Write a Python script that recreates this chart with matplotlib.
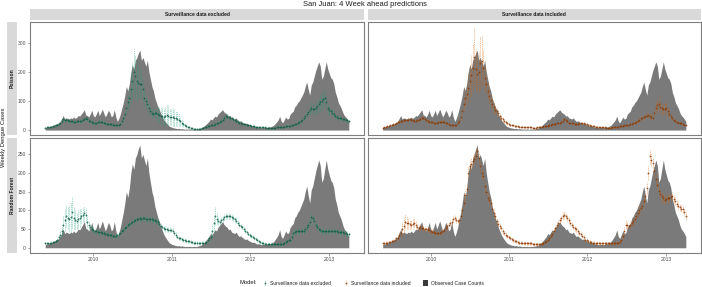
import numpy as np
import pandas as pd
import matplotlib
matplotlib.use('Agg')
import matplotlib.pyplot as plt
import matplotlib.dates as mdates
from matplotlib.patches import Rectangle, Patch

plt.rcParams['font.family'] = ['Liberation Sans', 'DejaVu Sans']

# weekly dates of the test period
weeks = pd.date_range('2009-05-21', periods=203, freq='7D')

# observed weekly dengue cases
observed = [8, 10, 11, 12, 14, 15, 18, 20, 22, 25,
            30, 40, 50, 38, 42, 40, 38, 42, 40, 45,
            40, 44, 50, 48, 55, 62, 70, 52, 50, 45,
            55, 68, 50, 45, 55, 68, 50, 60, 72, 58,
            45, 55, 68, 60, 45, 50, 70, 45, 30, 40,
            55, 75, 95, 120, 150, 135, 160, 200, 225, 210,
            240, 250, 265, 275, 240, 250, 235, 220, 240, 200,
            175, 150, 135, 110, 95, 80, 70, 55, 45, 35,
            28, 22, 16, 12, 10, 8, 7, 6, 5, 6,
            4, 5, 4, 3, 4, 3, 4, 3, 3, 4,
            3, 4, 5, 6, 8, 12, 15, 20, 25, 30,
            38, 35, 42, 48, 45, 55, 60, 65, 70, 62,
            58, 55, 48, 50, 42, 40, 38, 42, 35, 30,
            32, 28, 25, 22, 24, 20, 18, 16, 14, 15,
            12, 10, 11, 9, 8, 10, 9, 8, 10, 12,
            10, 14, 16, 22, 28, 35, 48, 30, 25, 35,
            45, 38, 40, 55, 60, 65, 80, 85, 95, 100,
            110, 120, 130, 150, 165, 140, 120, 155, 165, 185,
            205, 220, 235, 220, 175, 185, 210, 235, 210, 195,
            180, 175, 160, 130, 115, 95, 85, 75, 60, 50,
            45, 38, 30]

# Poisson, surveillance data excluded
pois_excl = [8, 9, 10, 11, 12, 13, 14, 16, 18, 22,
             25, 30, 37, 35, 33, 33, 32, 30, 30, 29,
             29, 30, 30, 31, 30, 33, 38, 42, 38, 32,
             30, 28, 26, 25, 25, 27, 28, 29, 28, 26,
             24, 22, 20, 20, 20, 19, 19, 18, 18, 17,
             22, 32, 42, 55, 77, 95, 111, 140, 169, 200,
             185, 170, 163, 160, 157, 140, 111, 100, 88, 75,
             65, 60, 54, 60, 58, 55, 52, 50, 48, 46,
             48, 52, 50, 46, 44, 45, 42, 40, 38, 34,
             30, 26, 22, 18, 14, 11, 9, 7, 6, 5,
             5, 5, 5, 5, 6, 7, 9, 11, 13, 15,
             16, 18, 19, 20, 23, 26, 29, 31, 36, 42,
             48, 46, 44, 42, 42, 38, 34, 31, 28, 26,
             24, 22, 21, 20, 18, 17, 16, 15, 14, 13,
             12, 11, 10, 10, 9, 9, 9, 8, 8, 8,
             8, 8, 8, 8, 9, 9, 10, 10, 11, 12,
             13, 14, 14, 15, 16, 18, 20, 22, 24, 27,
             31, 36, 42, 48, 54, 62, 70, 77, 74, 71,
             75, 82, 88, 95, 100, 106, 110, 95, 77, 70,
             65, 60, 55, 48, 45, 43, 42, 40, 38, 37,
             35, 33, 31]
pois_excl_err = [2, 2, 2, 2, 2, 3, 3, 3, 3, 4,
                 4, 5, 6, 6, 5, 5, 5, 5, 5, 5,
                 5, 5, 5, 5, 5, 5, 6, 7, 6, 5,
                 5, 5, 4, 4, 4, 4, 5, 5, 5, 4,
                 4, 4, 4, 4, 4, 4, 4, 3, 3, 3,
                 4, 6, 8, 12, 18, 25, 35, 50, 65, 80,
                 75, 70, 60, 50, 45, 40, 30, 25, 20, 18,
                 15, 15, 15, 20, 22, 25, 28, 30, 32, 30,
                 32, 35, 35, 30, 28, 30, 28, 26, 24, 20,
                 16, 12, 10, 8, 6, 4, 3, 3, 2, 2,
                 2, 2, 2, 2, 2, 2, 2, 3, 3, 3,
                 3, 4, 4, 4, 4, 5, 5, 6, 6, 7,
                 8, 8, 7, 7, 7, 6, 6, 5, 5, 5,
                 4, 4, 4, 4, 3, 3, 3, 3, 3, 3,
                 2, 2, 2, 2, 2, 2, 2, 2, 2, 2,
                 2, 2, 2, 2, 2, 2, 2, 2, 2, 3,
                 3, 3, 3, 3, 3, 4, 4, 4, 5, 5,
                 6, 7, 8, 10, 12, 14, 16, 18, 18, 18,
                 20, 22, 25, 28, 30, 30, 28, 25, 20, 15,
                 14, 12, 10, 9, 8, 8, 7, 7, 6, 6,
                 6, 5, 5]

# Poisson, surveillance data included
pois_incl = [8, 10, 12, 13, 15, 17, 19, 20, 22, 24,
             27, 29, 31, 32, 33, 34, 35, 36, 37, 36,
             34, 32, 31, 33, 36, 39, 42, 42, 38, 33,
             30, 29, 28, 27, 26, 25, 26, 27, 28, 29,
             29, 27, 25, 23, 20, 19, 18, 17, 17, 17,
             24, 31, 45, 66, 90, 110, 123, 145, 169, 190,
             215, 250, 210, 192, 200, 230, 238, 215, 180, 157,
             135, 117, 102, 88, 78, 70, 66, 58, 48, 42,
             37, 32, 27, 24, 20, 18, 17, 16, 15, 14,
             13, 12, 12, 11, 11, 10, 10, 9, 9, 9,
             8, 8, 8, 9, 10, 11, 12, 13, 14, 14,
             15, 16, 18, 20, 21, 22, 23, 24, 25, 28,
             32, 37, 34, 30, 25, 24, 23, 23, 22, 22,
             22, 23, 24, 25, 24, 22, 20, 17, 16, 15,
             14, 13, 12, 11, 10, 10, 9, 9, 9, 8,
             8, 8, 8, 9, 9, 10, 11, 12, 13, 14,
             15, 16, 17, 18, 19, 20, 22, 24, 26, 29,
             32, 36, 40, 42, 45, 48, 50, 52, 50, 46,
             42, 60, 77, 85, 91, 80, 75, 71, 74, 77,
             65, 54, 48, 42, 36, 32, 28, 25, 24, 23,
             22, 19, 17]
pois_incl_err = [2, 2, 2, 2, 2, 3, 3, 3, 3, 3,
                 4, 4, 4, 4, 4, 4, 4, 4, 4, 4,
                 4, 4, 4, 4, 4, 5, 5, 5, 5, 4,
                 4, 4, 4, 4, 4, 3, 3, 4, 4, 4,
                 4, 4, 3, 3, 3, 3, 3, 3, 3, 3,
                 4, 6, 10, 15, 22, 30, 40, 50, 60, 70,
                 80, 100, 70, 60, 70, 90, 85, 60, 45, 35,
                 30, 25, 22, 20, 18, 16, 14, 12, 10, 9,
                 8, 7, 6, 5, 4, 4, 3, 3, 3, 3,
                 2, 2, 2, 2, 2, 2, 2, 2, 2, 2,
                 2, 2, 2, 2, 2, 2, 2, 2, 2, 2,
                 2, 3, 3, 3, 3, 3, 3, 3, 3, 4,
                 5, 6, 5, 4, 4, 4, 3, 3, 3, 3,
                 3, 3, 4, 4, 4, 3, 3, 3, 3, 2,
                 2, 2, 2, 2, 2, 2, 2, 2, 2, 2,
                 2, 2, 2, 2, 2, 2, 2, 2, 2, 2,
                 2, 2, 3, 3, 3, 3, 3, 3, 4, 4,
                 4, 5, 5, 6, 6, 7, 8, 8, 8, 8,
                 8, 12, 18, 22, 25, 20, 18, 18, 20, 22,
                 16, 12, 10, 8, 6, 5, 4, 4, 3, 3,
                 3, 3, 3]

# Random Forest, surveillance data excluded
rf_excl = [12, 12, 13, 13, 14, 15, 16, 18, 22, 28,
           35, 45, 62, 75, 85, 80, 78, 82, 95, 80,
           75, 72, 78, 80, 85, 88, 92, 88, 70, 60,
           55, 50, 48, 45, 44, 43, 42, 41, 40, 40,
           38, 36, 35, 34, 33, 32, 32, 31, 33, 36,
           40, 45, 47, 52, 56, 60, 63, 65, 68, 72,
           74, 76, 78, 80, 78, 79, 80, 78, 76, 77,
           78, 76, 75, 73, 72, 68, 63, 58, 55, 52,
           50, 49, 48, 48, 47, 46, 40, 35, 30, 27,
           25, 23, 21, 20, 19, 18, 17, 16, 15, 14,
           13, 13, 12, 12, 13, 13, 14, 16, 20, 25,
           30, 45, 65, 85, 78, 72, 70, 74, 78, 82,
           85, 86, 85, 84, 82, 80, 76, 72, 67, 62,
           58, 55, 50, 46, 42, 38, 35, 32, 30, 27,
           24, 20, 17, 15, 13, 12, 11, 10, 10, 9,
           9, 9, 9, 9, 9, 9, 9, 10, 11, 13,
           15, 18, 20, 22, 30, 40, 43, 44, 45, 45,
           44, 45, 46, 50, 56, 62, 70, 82, 80, 72,
           62, 55, 50, 48, 46, 46, 45, 45, 44, 44,
           44, 45, 45, 44, 44, 43, 42, 42, 41, 40,
           39, 38, 36]
rf_excl_err = [3, 3, 3, 3, 3, 3, 3, 4, 5, 6,
               10, 15, 25, 30, 30, 30, 35, 40, 42, 30,
               25, 22, 25, 25, 20, 18, 20, 18, 15, 10,
               8, 8, 7, 7, 6, 6, 6, 6, 6, 6,
               6, 6, 6, 6, 6, 6, 6, 6, 6, 6,
               6, 6, 7, 7, 7, 7, 8, 8, 8, 8,
               8, 8, 8, 8, 8, 8, 8, 8, 8, 8,
               8, 8, 8, 8, 8, 8, 8, 7, 7, 7,
               7, 7, 7, 7, 6, 6, 6, 6, 5, 5,
               5, 5, 5, 4, 4, 4, 4, 4, 4, 4,
               4, 4, 4, 4, 4, 4, 4, 5, 6, 8,
               12, 18, 22, 25, 15, 10, 8, 8, 8, 8,
               8, 8, 8, 8, 8, 8, 7, 7, 7, 7,
               6, 6, 6, 6, 6, 5, 5, 5, 5, 5,
               4, 4, 4, 4, 4, 4, 4, 4, 4, 4,
               4, 4, 4, 4, 4, 4, 4, 4, 4, 4,
               4, 4, 5, 6, 7, 8, 8, 8, 8, 8,
               8, 8, 8, 8, 9, 10, 10, 10, 10, 10,
               8, 8, 8, 8, 8, 8, 8, 8, 8, 8,
               7, 7, 7, 7, 7, 7, 7, 7, 7, 7,
               7, 7, 7]

# Random Forest, surveillance data included
rf_incl = [13, 13, 14, 14, 15, 15, 17, 19, 22, 25,
           27, 33, 40, 50, 58, 70, 67, 65, 63, 62,
           64, 67, 62, 56, 54, 55, 54, 53, 51, 49,
           49, 47, 45, 43, 41, 40, 40, 40, 40, 41,
           44, 48, 54, 58, 62, 67, 70, 76, 80, 75,
           71, 74, 85, 100, 120, 140, 156, 200, 219, 225,
           232, 238, 245, 259, 240, 219, 200, 192, 165, 150,
           134, 128, 120, 105, 94, 84, 71, 64, 58, 52,
           45, 40, 35, 31, 28, 25, 23, 21, 19, 17,
           15, 14, 13, 13, 12, 12, 12, 12, 12, 12,
           9, 9, 9, 9, 9, 10, 11, 12, 15, 18,
           22, 26, 31, 38, 46, 54, 60, 67, 73, 80,
           85, 89, 85, 80, 74, 67, 62, 56, 52, 49,
           44, 40, 36, 32, 28, 22, 20, 18, 16, 15,
           14, 13, 12, 12, 12, 12, 12, 12, 12, 12,
           12, 12, 12, 12, 12, 12, 13, 14, 16, 22,
           31, 45, 62, 60, 58, 62, 66, 71, 78, 86,
           94, 100, 106, 112, 125, 138, 160, 200, 245, 236,
           228, 205, 183, 168, 152, 145, 138, 132, 129, 130,
           132, 134, 136, 138, 130, 125, 118, 112, 108, 105,
           103, 95, 85]
rf_incl_err = [3, 3, 3, 3, 3, 3, 3, 4, 4, 5,
               6, 8, 12, 18, 22, 20, 18, 15, 12, 12,
               12, 12, 10, 8, 8, 8, 8, 8, 8, 7,
               7, 7, 7, 7, 6, 6, 6, 6, 6, 6,
               6, 6, 7, 7, 7, 8, 8, 8, 8, 8,
               8, 8, 9, 10, 12, 14, 15, 15, 15, 15,
               15, 15, 15, 15, 15, 15, 15, 14, 14, 13,
               12, 12, 11, 10, 10, 9, 9, 8, 8, 7,
               7, 6, 6, 6, 5, 5, 5, 5, 4, 4,
               4, 4, 4, 4, 4, 4, 4, 4, 4, 4,
               4, 4, 4, 4, 4, 4, 4, 4, 4, 5,
               5, 6, 6, 7, 7, 8, 8, 8, 9, 9,
               10, 10, 9, 9, 8, 8, 7, 7, 7, 6,
               6, 6, 5, 5, 5, 5, 4, 4, 4, 4,
               4, 4, 4, 4, 4, 4, 4, 4, 4, 4,
               4, 4, 4, 4, 4, 4, 4, 4, 4, 6,
               8, 10, 12, 10, 9, 9, 9, 9, 10, 10,
               10, 11, 11, 12, 13, 14, 16, 18, 20, 18,
               16, 15, 14, 13, 12, 12, 12, 11, 11, 11,
               11, 11, 11, 11, 10, 10, 10, 10, 10, 10,
               10, 10, 10]

models = ['Poisson', 'Random Forest']
settings = ['Surveillance data excluded', 'Surveillance data included']

excl_col, incl_col = '#1b9e77', '#d95f02'
excl_dark, incl_dark = '#0e5f47', '#8a3a05'

W, H = 702, 287
fig = plt.figure(figsize=(W / 100, H / 100), dpi=100)


def box(x0, y0, x1, y1):
    # pixel box (from top-left) -> figure rect
    return [x0 / W, 1 - y1 / H, (x1 - x0) / W, (y1 - y0) / H]


cols = [(30, 364), (367.5, 701)]
rows = [(22, 135), (138.3, 253)]
ylims = [(-17, 372), (-14, 293)]
yticks = [[0, 100, 200, 300], [0, 50, 100, 150, 200, 250]]
panels = [[(pois_excl, pois_excl_err, excl_col, excl_dark),
           (pois_incl, pois_incl_err, incl_col, incl_dark)],
          [(rf_excl, rf_excl_err, excl_col, excl_dark),
           (rf_incl, rf_incl_err, incl_col, incl_dark)]]

pad = (weeks[-1] - weeks[0]) * 0.05
strip_col = '#d9d9d9'
tick_col = '#4d4d4d'
fs = 3.6
handles = {}

for r in range(2):
    for c in range(2):
        ax = fig.add_axes(box(cols[c][0], rows[r][0], cols[c][1], rows[r][1]))
        ax.fill_between(weeks, observed, 0, color='#7a7a7a', lw=0)
        mean, err, col, dark = panels[r][c]
        eb = ax.errorbar(weeks, mean, yerr=err, fmt='o', ms=1.3, mew=0,
                         color=dark, ecolor=col, elinewidth=0.4,
                         capsize=0.7, capthick=0.4, alpha=0.85)
        eb[2][0].set_linestyle((0, (2.0, 1.4)))
        eb[2][0].set_alpha(0.7)
        handles[c] = eb
        ax.set_xlim(weeks[0] - pad, weeks[-1] + pad)
        ax.set_ylim(*ylims[r])
        ax.set_yticks(yticks[r])
        ax.xaxis.set_major_locator(mdates.YearLocator())
        ax.xaxis.set_major_formatter(mdates.DateFormatter('%Y'))
        for s in ax.spines.values():
            s.set_color('#7f7f7f')
            s.set_linewidth(0.8)
        ax.tick_params(length=1.8, width=0.5, color='#7f7f7f',
                       labelsize=fs, labelcolor=tick_col, pad=1)
        if c == 1:
            ax.tick_params(axis='y', labelleft=False, length=0)
        if r == 0:
            ax.tick_params(axis='x', labelbottom=False, length=0)

# column strips
for c in range(2):
    x0, x1 = cols[c]
    fig.add_artist(Rectangle((x0 / W, 1 - 20 / H), (x1 - x0) / W, 10.7 / H,
                             transform=fig.transFigure, color=strip_col, lw=0))
    fig.text((x0 + x1) / 2 / W, 1 - 14.7 / H, settings[c], ha='center', va='center',
             fontsize=fs, fontweight='bold', color='#1a1a1a')

# row strips
for r in range(2):
    y0, y1 = rows[r]
    fig.add_artist(Rectangle((7.3 / W, 1 - y1 / H), 9.7 / W, (y1 - y0) / H,
                             transform=fig.transFigure, color=strip_col, lw=0))
    fig.text(12.2 / W, 1 - (y0 + y1) / 2 / H, models[r], ha='center', va='center',
             rotation=90, fontsize=fs, fontweight='bold', color='#1a1a1a')

fig.text(3.5 / W, 1 - 137 / H, 'Weekly Dengue Cases', rotation=90,
         ha='center', va='center', fontsize=4.2, color='#1a1a1a')
fig.text(365 / W, 1 - 4.5 / H, 'San Juan: 4 Week ahead predictions',
         ha='center', va='center', fontsize=5.4, color='#1a1a1a')

fig.text(240 / W, 1 - 283 / H, 'Model:', ha='left', va='center',
         fontsize=4.2, color='#1a1a1a')
leg = fig.legend([handles[0], handles[1], Patch(facecolor='#3a3a3a')],
                 [settings[0], settings[1], 'Observed Case Counts'],
                 loc='center left', bbox_to_anchor=(262 / W, 1 - 283 / H),
                 ncol=3, frameon=False, fontsize=fs, handlelength=1.0,
                 handleheight=1.2, handletextpad=0.6, columnspacing=2.4,
                 borderpad=0, borderaxespad=0)
for t in leg.get_texts():
    t.set_color('#1a1a1a')

fig.savefig('out.png', dpi=100)
